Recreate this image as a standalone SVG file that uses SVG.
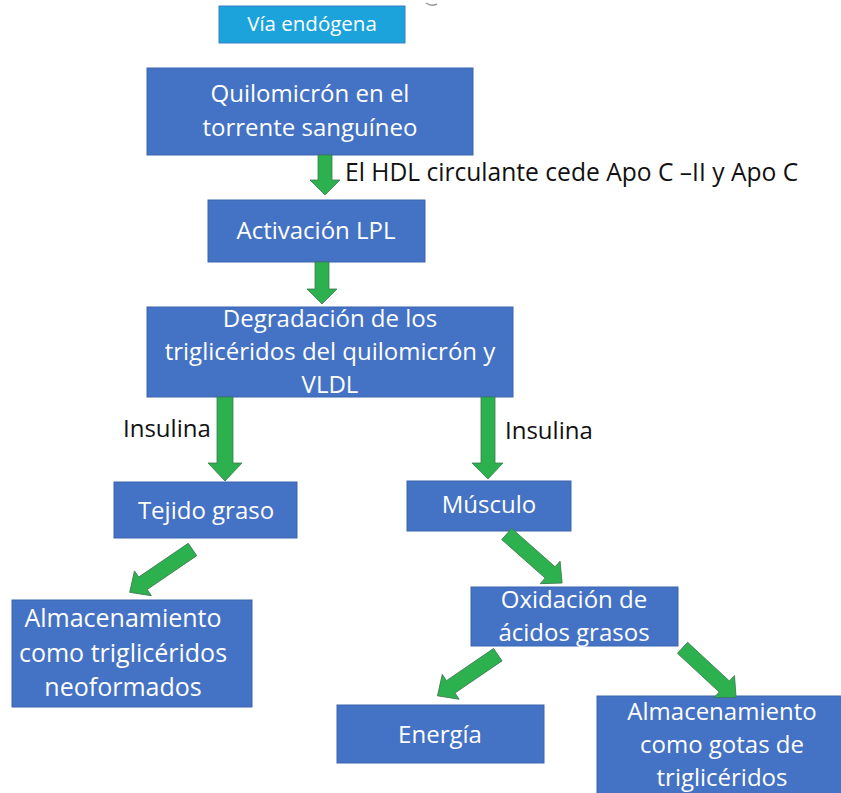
<svg xmlns="http://www.w3.org/2000/svg" width="841" height="793" viewBox="0 0 841 793">
<style>
.box{fill:#4472c4;stroke:#3a64ad;stroke-width:1}
.bt{font-family:"Open Sans","DejaVu Sans",sans-serif;font-size:24px;fill:#ffffff;text-anchor:middle}
.lb{font-family:"Open Sans","DejaVu Sans",sans-serif;font-size:24px;fill:#111111}
.arr{fill:#2db14e;stroke:#3b7a52;stroke-width:0.8;stroke-linejoin:miter}
</style>
<rect width="841" height="793" fill="#ffffff"/>
<path d="M426,3 Q431,7 437,4" fill="none" stroke="#9a9a9a" stroke-width="1.5"/>
<g id="via">
<rect x="219" y="6" width="186" height="37" fill="#1ca3dc" stroke="#3a80c0" stroke-width="1"/>
<text class="bt" x="312" y="31" style="font-size:20.5px">Vía endógena</text>
</g>
<g id="quilomicron">
<rect class="box" x="147" y="68" width="326" height="87"/>
<text class="bt" x="310" y="102">Quilomicrón en el</text>
<text class="bt" x="310" y="136">torrente sanguíneo</text>
</g>
<g id="activacion">
<rect class="box" x="208" y="200" width="217" height="62"/>
<text class="bt" x="316" y="239">Activación LPL</text>
</g>
<g id="degradacion">
<rect class="box" x="147" y="307" width="366" height="90"/>
<text class="bt" x="330" y="327">Degradación de los</text>
<text class="bt" x="330" y="360">triglicéridos del quilomicrón y</text>
<text class="bt" x="330" y="393">VLDL</text>
</g>
<g id="tejido">
<rect class="box" x="114" y="482" width="183" height="56"/>
<text class="bt" x="206" y="519">Tejido graso</text>
</g>
<g id="musculo">
<rect class="box" x="407" y="481" width="164" height="50"/>
<text class="bt" x="489" y="513">Músculo</text>
</g>
<g id="almacenamiento-neo">
<rect class="box" x="12" y="600" width="240" height="107"/>
<text class="bt" x="123" y="627" style="font-size:25px">Almacenamiento</text>
<text class="bt" x="123" y="662" style="font-size:25px">como triglicéridos</text>
<text class="bt" x="123" y="696" style="font-size:25px">neoformados</text>
</g>
<g id="oxidacion">
<rect class="box" x="471" y="587" width="207" height="59"/>
<text class="bt" x="574" y="608">Oxidación de</text>
<text class="bt" x="574" y="641">ácidos grasos</text>
</g>
<g id="energia">
<rect class="box" x="337" y="705" width="207" height="58"/>
<text class="bt" x="440" y="743">Energía</text>
</g>
<g id="almacenamiento-gotas">
<rect class="box" x="597" y="696" width="250" height="104"/>
<text class="bt" x="722" y="720">Almacenamiento</text>
<text class="bt" x="722" y="753">como gotas de</text>
<text class="bt" x="722" y="786">triglicéridos</text>
</g>
<g id="connectors">
<path class="arr" d="M318,155 L332,155 L332,180 L340,180 L325,195 L310,180 L318,180 Z"/>
<path class="arr" d="M315,262 L329,262 L329,289 L337,289 L322,304 L307,289 L315,289 Z"/>
<path class="arr" d="M217,397 L233,397 L233,463 L242,463 L225,481 L208,463 L217,463 Z"/>
<path class="arr" d="M481,397 L495,397 L495,463 L503,463 L488,479 L472,463 L481,463 Z"/>
<path class="arr" transform="translate(192.5,549.5) rotate(145.7)" d="M0,-7.5 H60 V-15 L76,0 L60,15 V7.5 H0 Z"/>
<path class="arr" transform="translate(506.7,534) rotate(41.5)" d="M0,-7.5 H58 V-15 L74,0 L58,15 V7.5 H0 Z"/>
<path class="arr" transform="translate(497.8,654.7) rotate(145.7)" d="M0,-7.5 H57 V-15 L73,0 L57,15 V7.5 H0 Z"/>
<path class="arr" transform="translate(682.5,647.8) rotate(42.8)" d="M0,-7.5 H57 V-15 L73,0 L57,15 V7.5 H0 Z"/>
<text class="lb" x="345" y="181" style="font-size:24.6px">El HDL circulante cede Apo C –II y Apo C</text>
<text class="lb" x="123" y="437">Insulina</text>
<text class="lb" x="505" y="439">Insulina</text>
</g>
</svg>
